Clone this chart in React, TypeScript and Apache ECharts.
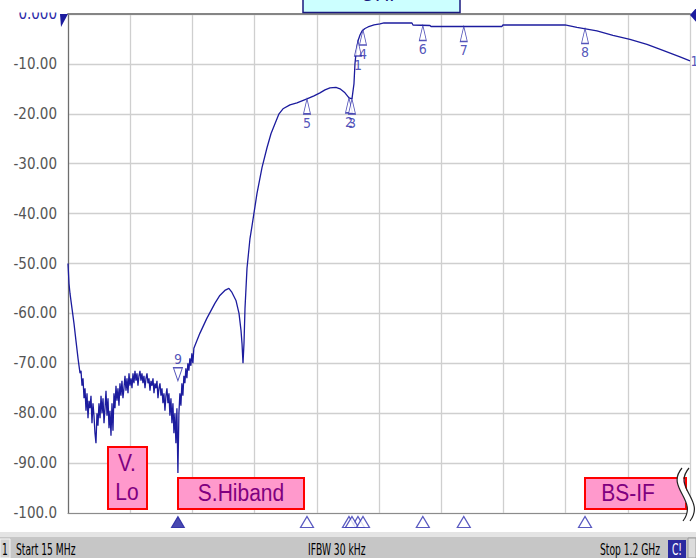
import React, { useEffect, useRef } from 'react';
import * as echarts from 'echarts';

// ---- sweep / scale ----
const freqStartMHz = 15;
const freqStopMHz = 1200;
const freqDivMHz = 118.5;
const levelMinDb = -100;
const levelMaxDb = 0;
const levelDivDb = 10;

// ---- measured trace (frequency in MHz, level in dB) ----
const traceFreqMHz = [
  15, 16.9, 18.8, 22.6, 26.4, 30.2, 34.1, 36.0, 37.9, 39.8,
  41.7, 43.6, 45.5, 47.4, 49.3, 51.2, 53.1, 55.0, 56.9, 58.8,
  60.7, 62.6, 64.5, 66.4, 68.3, 70.2, 72.1, 74.0, 76.0, 77.9,
  79.8, 81.7, 83.6, 85.5, 87.4, 89.3, 91.2, 93.1, 95.0, 96.9,
  98.8, 100.7, 102.6, 104.5, 106.4, 108.3, 110.2, 112.1, 114.0, 115.9,
  117.8, 119.7, 121.6, 123.6, 125.5, 127.4, 129.3, 131.2, 133.1, 135.0,
  136.9, 138.8, 140.7, 142.6, 144.5, 146.4, 148.3, 150.2, 152.1, 154.0,
  155.9, 157.8, 159.7, 161.7, 163.6, 165.5, 167.4, 169.3, 171.2, 173.1,
  175.0, 176.9, 178.8, 180.7, 182.6, 184.5, 186.4, 188.3, 190.2, 192.1,
  194.0, 195.9, 197.8, 199.7, 201.6, 203.5, 205.4, 207.3, 209.2, 211.1,
  213.0, 214.9, 216.8, 218.7, 220.6, 222.5, 224.4, 226.3, 228.2, 230.1,
  232.0, 233.9, 235.8, 237.7, 239.6, 241.5, 243.4, 245.3, 247.2, 249.1,
  251.0, 252.9, 254.8, 258.6, 266.2, 279.5, 294.8, 304.3, 313.8, 321.5,
  327.4, 335.0, 340.8, 344.6, 346.5, 348.4, 350.3, 352.2, 356.0, 361.7,
  365.5, 375.0, 384.6, 394.1, 401.7, 409.3, 417.0, 424.6, 437.9, 451.2,
  470.3, 483.6, 495.0, 504.6, 514.1, 525.5, 533.2, 542.7, 550.3, 556.0,
  559.8, 561.7, 563.6, 567.4, 571.3, 575.1, 580.8, 586.5, 598.0, 609.4,
  617.0, 670.3, 672.2, 704.6, 706.5, 841.8, 843.7, 961.8, 984.6, 1022.7,
  1053.2, 1085.6, 1118.0, 1148.5, 1181.0, 1200,
];
const traceLevelDb = [
  -50, -54, -56, -59, -62, -65.5, -69, -70.5, -72, -71.5,
  -74.5, -73, -77, -75, -79.5, -76, -81, -77.5, -79, -76.5,
  -82, -78, -80.5, -84, -86, -80, -82.5, -78, -81, -76.5,
  -80, -77, -82, -79, -75.5, -80.5, -77, -83, -79.5, -84.5,
  -78, -83.5, -76, -79, -74.5, -77.5, -75, -78.5, -74, -76.5,
  -73.5, -77, -75, -72.5, -75.5, -73, -76, -72, -74.5, -73,
  -75, -72, -74, -71.5, -73.5, -72, -74.5, -72.5, -71.5, -73.5,
  -72, -74, -72.5, -75, -73, -72, -74, -73, -75.5, -73.5,
  -74.5, -73, -76, -74, -75, -73.5, -77, -75, -74, -76.5,
  -75, -78, -76, -79.5, -76.5, -75, -78, -76, -80.5, -77,
  -82, -78, -84, -80, -86, -79, -92, -80, -76, -78.5,
  -74, -76.5, -72.5, -74, -71, -73, -70, -71.5, -69, -70.5,
  -68, -70, -67, -66, -64, -61, -58, -56.4, -55.4, -55,
  -55.8, -57.4, -60, -63.4, -66, -70, -66, -59, -51, -45,
  -42.5, -36, -30.8, -26.8, -24, -22, -20, -19, -18.2, -17.8,
  -17, -16.4, -15.8, -15.2, -14.8, -14.7, -15, -15.8, -16.8, -17,
  -14, -10, -8, -5.4, -4.2, -3.4, -2.9, -2.6, -2.2, -2,
  -1.8, -1.8, -2.2, -2.3, -2.5, -2.5, -2.2, -2.2, -2.7, -3.4,
  -4.3, -5.1, -6.1, -7.3, -8.6, -9.4,
];

// ---- markers ----
const markerNames = ['1', '2', '3', '4', '5', '6', '7', '8', '9', '10'];
const markerFreqMHz = [567.4, 550.3, 556.0, 577.0, 470.3, 691.0, 769.0, 1000.0, 224.4, 1200];
const markerLevelDb = [-5.4, -16.8, -17, -3.2, -17, -2.3, -2.5, -2.9, -73.5, -9.4];
const activeMarker = '9';
const edgeMarker = '10';

// ---- texts ----
const bandLabels = ['V.', 'Lo', 'S.Hiband', 'BS-IF'];
const titleText = 'UHF';
const statusChannel = '1';
const statusStart = 'Start 15 MHz';
const statusIfbw = 'IFBW 30 kHz';
const statusStop = 'Stop 1.2 GHz';
const statusFlag = 'C!';

const BLUE = '#1c1c9e';
const NARROW = "'Liberation Sans Narrow', 'DejaVu Sans Condensed', sans-serif";
const SANS = "'Liberation Sans', Arial, sans-serif";

function formatLevel(v: number): string {
  if (v === 0) return '0.000';
  if (v <= -100) return v.toFixed(1);
  return v.toFixed(2);
}

export default function App() {
  const ref = useRef<HTMLDivElement>(null);

  useEffect(() => {
    document.body.style.margin = '0';
    if (!ref.current) return;
    const chart = echarts.init(ref.current, undefined, { renderer: 'svg' });

    const trace = traceFreqMHz.map((f, i) => [f, traceLevelDb[i]]);

    const upTri = 'path://M5,0 L10,15 L0,15 Z';
    const downTri = 'path://M0,0 L10,0 L5,14 Z';

    const plotMarkers = markerNames
      .map((name, i) => ({ name, f: markerFreqMHz[i], v: markerLevelDb[i] }))
      .filter((m) => m.name !== edgeMarker)
      .map((m) => {
        const active = m.name === activeMarker;
        return {
          name: m.name,
          value: [m.f, m.v],
          symbol: active ? downTri : upTri,
          symbolSize: active ? [9, 13] : [7, 15],
          symbolOffset: active ? [0, -6.5] : [0, 7.5],
          label: {
            show: true,
            formatter: m.name,
            position: active ? 'top' : 'bottom',
            distance: 1,
          },
        };
      });

    const stripMarkers = markerNames
      .map((name, i) => ({ name, f: markerFreqMHz[i] }))
      .filter((m) => m.name !== edgeMarker)
      .map((m) => {
        const active = m.name === activeMarker;
        return {
          value: [m.f, levelMinDb],
          itemStyle: active
            ? { color: BLUE, borderColor: BLUE, borderWidth: 1 }
            : { color: '#ffffff', borderColor: '#3030b0', borderWidth: 1.2 },
        };
      });

    const edge = markerNames
      .map((name, i) => ({ name, f: markerFreqMHz[i], v: markerLevelDb[i] }))
      .filter((m) => m.name === edgeMarker)
      .map((m) => ({ value: [m.f, m.v], label: { show: true, formatter: m.name } }));

    const t = (x: number, y: number, text: string, font: string, fill: string, align = 'left', sy = 1, z = 102, sx = 1) => ({
      type: 'text',
      x,
      y,
      scaleX: sx,
      scaleY: sy,
      z,
      style: {
        text,
        font,
        fill,
        align,
        textAlign: align,
        verticalAlign: 'middle',
        textVerticalAlign: 'middle',
      },
    });

    const pinkBox = (x: number, y: number, w: number, h: number) => ({
      type: 'rect',
      z: 100,
      shape: { x, y, width: w, height: h },
      style: { fill: '#ff99cc', stroke: '#ff0000', lineWidth: 2 },
    });

    const PURPLE = '#800080';
    const bandFont = `21px ${SANS}`;
    const statusFont = `12px ${NARROW}`;

    chart.setOption({
      animation: false,
      textStyle: { fontFamily: NARROW },
      grid: { left: 68, right: 6, top: 14, bottom: 45, containLabel: false },
      xAxis: [
        {
          type: 'value',
          min: freqStartMHz,
          max: freqStopMHz,
          interval: freqDivMHz,
          axisLine: { show: true, onZero: false, lineStyle: { color: '#8c8c8c', width: 1.2 } },
          axisTick: { show: false },
          axisLabel: { show: false },
          splitLine: { show: true, lineStyle: { color: '#cfcfcf', width: 1.3 } },
        },
        {
          type: 'value',
          position: 'top',
          min: freqStartMHz,
          max: freqStopMHz,
          axisLine: { show: true, onZero: false, lineStyle: { color: '#858585', width: 2 } },
          axisTick: { show: false },
          axisLabel: { show: false },
          splitLine: { show: false },
        },
      ],
      yAxis: {
        type: 'value',
        min: levelMinDb,
        max: levelMaxDb,
        interval: levelDivDb,
        axisLine: { show: true, lineStyle: { color: '#6e6e6e', width: 1.2 } },
        axisTick: { show: false },
        splitLine: { show: true, lineStyle: { color: '#cfcfcf', width: 1.3 } },
        axisLabel: {
          margin: 11,
          fontFamily: NARROW,
          fontSize: 15,
          formatter: (v: number) => formatLevel(v),
          color: (v: any) => (Number(v) === 0 ? '#2a2aa8' : '#555555'),
        },
      },
      series: [
        {
          type: 'line',
          data: trace,
          showSymbol: false,
          symbol: 'none',
          lineStyle: { color: BLUE, width: 1.3 },
          z: 3,
        },
        {
          type: 'scatter',
          data: plotMarkers,
          clip: false,
          itemStyle: { color: '#ffffff', borderColor: '#2828a8', borderWidth: 1.1 },
          label: { color: '#2828a8', fontSize: 14, fontFamily: NARROW },
          z: 5,
        },
        {
          type: 'scatter',
          data: stripMarkers,
          clip: false,
          symbol: 'triangle',
          symbolSize: [13, 11],
          symbolOffset: [0, 9],
          z: 5,
        },
        {
          type: 'scatter',
          data: edge,
          clip: false,
          symbolSize: 1,
          itemStyle: { color: 'rgba(0,0,0,0)' },
          label: { position: 'right', distance: 0, color: '#2828a8', fontSize: 14, fontFamily: NARROW },
          z: 5,
        },
      ],
      graphic: [
        // hide upper part of top tick label (screen edge)
        { type: 'rect', z: 90, shape: { x: 0, y: 0, width: 59, height: 12.5 }, style: { fill: '#ffffff' } },
        // reference level arrow
        { type: 'polygon', z: 100, shape: { points: [[60, 14], [68, 14], [61, 27]] }, style: { fill: BLUE } },
        // right edge arrow
        { type: 'polygon', z: 100, shape: { points: [[697, 7], [690, 15], [697, 23]] }, style: { fill: BLUE } },
        // title box
        { type: 'rect', z: 100, shape: { x: 303, y: -4, width: 157, height: 16.5 }, style: { fill: '#ccffff', stroke: '#1a1a80', lineWidth: 1.5 } },
        t(381, -6, titleText, `20px ${SANS}`, '#1a1a80', 'center'),
        // band boxes
        pinkBox(108, 447, 39, 62),
        t(127, 463, bandLabels[0], bandFont, PURPLE, 'center', 1.12),
        t(127, 492, bandLabels[1], bandFont, PURPLE, 'center', 1.12),
        pinkBox(178, 478, 126, 31),
        t(241, 493.5, bandLabels[2], bandFont, PURPLE, 'center', 1.12),
        pinkBox(585, 478, 101, 31),
        t(628, 493.5, bandLabels[3], bandFont, PURPLE, 'center', 1.12),
        // axis break squiggle
        {
          type: 'bezierCurve', z: 103,
          shape: { x1: 685, y1: 468, x2: 686, y2: 521, cpx1: 668, cpy1: 488, cpx2: 702, cpy2: 500 },
          style: { stroke: '#ffffff', lineWidth: 6, fill: 'none' },
        },
        {
          type: 'bezierCurve', z: 104,
          shape: { x1: 682, y1: 468, x2: 683, y2: 521, cpx1: 665, cpy1: 488, cpx2: 699, cpy2: 500 },
          style: { stroke: '#222222', lineWidth: 1.2, fill: 'none' },
        },
        {
          type: 'bezierCurve', z: 104,
          shape: { x1: 689, y1: 468, x2: 690, y2: 521, cpx1: 672, cpy1: 488, cpx2: 706, cpy2: 500 },
          style: { stroke: '#222222', lineWidth: 1.2, fill: 'none' },
        },
        // status bar
        { type: 'rect', z: 100, shape: { x: 0, y: 532, width: 696, height: 26 }, style: { fill: '#c6c6c6' } },
        { type: 'rect', z: 101, shape: { x: 0, y: 532, width: 696, height: 5 }, style: { fill: '#e4e4e4' } },
        { type: 'rect', z: 101, shape: { x: 0, y: 539, width: 10, height: 19 }, style: { fill: '#d2d2d2', stroke: '#f2f2f2', lineWidth: 1 } },
        t(2, 549, statusChannel, statusFont, '#000000', 'left', 1.35, 102, 0.85),
        t(16, 549, statusStart, statusFont, '#000000', 'left', 1.35, 102, 0.85),
        t(308, 549, statusIfbw, statusFont, '#000000', 'left', 1.35, 102, 0.85),
        t(600, 549, statusStop, statusFont, '#000000', 'left', 1.35, 102, 0.85),
        { type: 'rect', z: 101, shape: { x: 668, y: 540, width: 18, height: 18 }, style: { fill: '#2a2aa0' } },
        t(677, 549, statusFlag, statusFont, '#ffffff', 'center', 1.35, 103, 0.85),
        { type: 'rect', z: 101, shape: { x: 688, y: 538, width: 8, height: 20 }, style: { fill: '#dcdcdc', stroke: '#9a9a9a', lineWidth: 1 } },
      ],
    });

    return () => chart.dispose();
  }, []);

  return <div ref={ref} style={{ width: 696, height: 558 }} />;
}
